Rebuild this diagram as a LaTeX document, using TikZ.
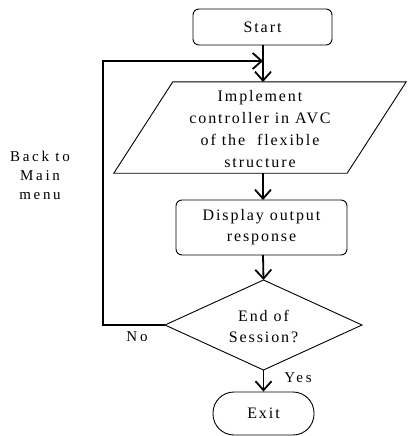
\documentclass[tikz,border=0pt]{standalone}
\usepackage{fontspec}
\setmainfont{Liberation Serif}[LetterSpace=12]
\usetikzlibrary{arrows.meta}
\begin{document}
\begin{tikzpicture}[x=1pt,y=-1pt,
  every node/.style={font=\fontsize{16}{21}\selectfont, align=center, inner sep=0pt},
  rbox/.style={draw, line width=0.9pt, rounded corners=6pt},
  flow/.style={line width=1.8pt, -{Straight Barb[length=9pt,width=16pt,line width=1.8pt]}},
  back/.style={line width=1.3pt, -{Straight Barb[length=9pt,width=16pt,line width=1.8pt]}},
  lbl/.style={font=\fontsize{15}{19}\selectfont\addfontfeature{LetterSpace=18}}]
\useasboundingbox (0,0) rectangle (407,436);
\node[rbox, minimum width=139pt, minimum height=36pt] (start) at (262.5,27) {Start};
\node[minimum width=233pt, minimum height=91pt, font=\fontsize{16}{22}\selectfont] (impl) at (260,129)
  {Implement\\controller in AVC\\of the\ \ flexible\\structure};
\draw[line width=0.9pt] ([xshift=29.5pt,yshift=1.5pt]impl.north west) -- ([xshift=29.5pt,yshift=1.5pt]impl.north east)
  -- ([xshift=-29.5pt,yshift=1.5pt]impl.south east) -- ([xshift=-29.5pt,yshift=1.5pt]impl.south west) -- cycle;
\node[rbox, minimum width=171pt, minimum height=55pt] (disp) at (261.5,227.5) {Display output\\response};
\node[minimum width=197pt, minimum height=90pt] (decbox) at (263.5,326) {End of\\Session?};
\coordinate (dtop) at (263.5,280);
\coordinate (dbot) at (263.5,370);
\coordinate (dleft) at (165,325);
\coordinate (dright) at (362,325);
\draw[line width=0.9pt] (dtop) -- (dright) -- (dbot) -- (dleft) -- cycle;
\node[rbox, rounded corners=21pt, minimum width=101pt, minimum height=43pt] (exit) at (263.5,413.5) {Exit};
\coordinate (j) at (263,61);
\coordinate (corner) at (103,61);
\draw[flow] (263,45) -- (263,82);
\draw[flow] (263,173) -- (263,200);
\draw[flow] (263,255) -- (dtop);
\draw[flow] (dbot) -- (exit.north);
\draw[back] (dleft) -| (corner) -- (j);
\node[lbl] (yes) at (298,378) {Yes};
\node[lbl] (no) at (137,337) {No};
\node[lbl] (backlbl) at (40,175) {Back to\\Main\\menu};
\end{tikzpicture}
\end{document}
